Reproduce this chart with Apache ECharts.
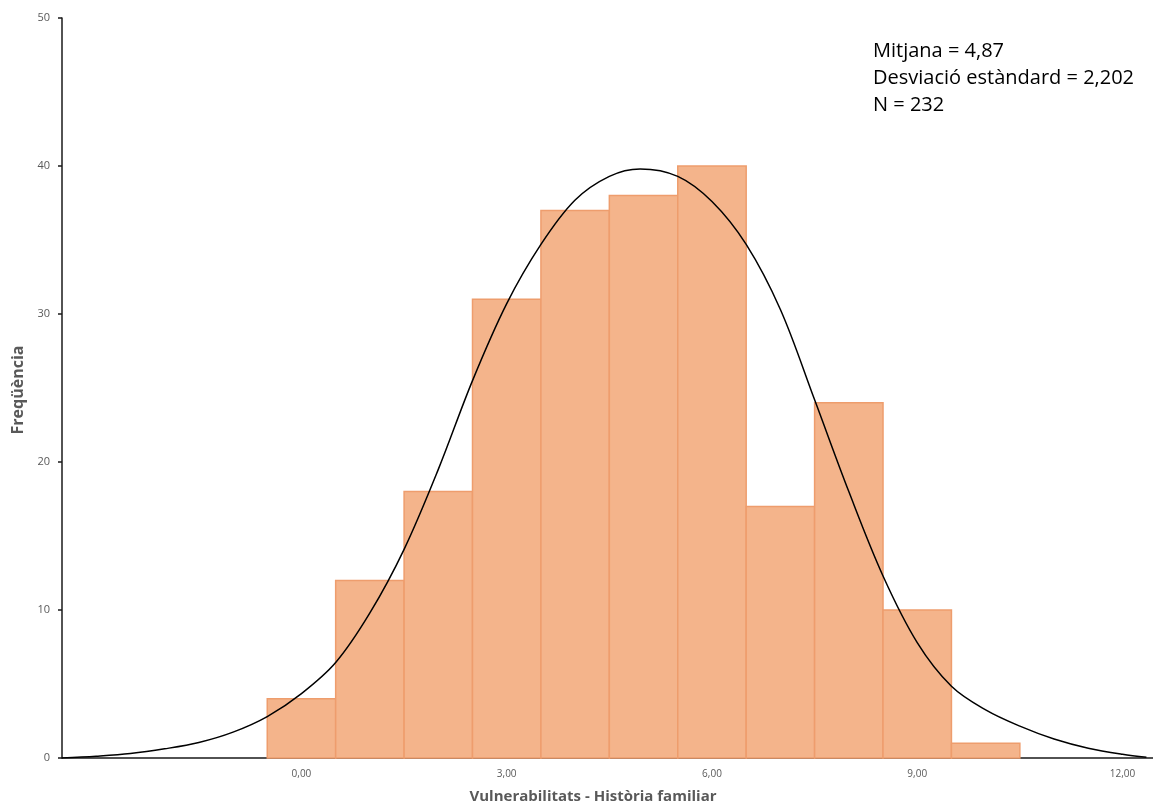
<!DOCTYPE html>
<html>
<head>
<meta charset="utf-8">
<script src="https://cdn.jsdelivr.net/npm/echarts@6/dist/echarts.min.js"></script>
<style>
html,body{margin:0;padding:0;background:#fff;}
#chart{width:1153px;height:807px;}
</style>
</head>
<body>
<div id="chart"></div>
<script>
// Histogram bins (bin centres) and frequencies
const binCenters = [0, 1, 2, 3, 4, 5, 6, 7, 8, 9, 10];
const frequencies = [4, 12, 18, 31, 37, 38, 40, 17, 24, 10, 1];
// Normal curve
const curveX = [-3.50, -3.00, -2.50, -2.00, -1.50, -1.00, -0.50, 0.00, 0.50, 1.00, 1.50, 2.00, 2.50, 3.00, 3.50, 4.00, 4.50, 4.95, 5.50, 6.00, 6.50, 7.00, 7.50, 8.00, 8.50, 9.00, 9.50, 10.00, 10.50, 11.00, 11.50, 12.00, 12.35];
const curveY = [0.00, 0.12, 0.30, 0.62, 1.05, 1.75, 2.80, 4.35, 6.45, 9.80, 14.10, 19.50, 25.50, 30.70, 34.70, 37.70, 39.30, 39.80, 39.30, 37.60, 34.70, 30.30, 24.20, 18.00, 12.30, 7.80, 4.85, 3.25, 2.15, 1.28, 0.66, 0.25, 0.05];
const xTickValues = [0, 3, 6, 9, 12];
const yTickInterval = 10;
const statsLines = ['Mitjana = 4,87', 'Desviació estàndard = 2,202', 'N = 232'];
const xTitle = 'Vulnerabilitats - Història familiar';
const yTitle = 'Freqüència';

const barData = binCenters.map((c, i) => [c, frequencies[i]]);
const curveData = curveX.map((x, i) => [x, curveY[i]]);

const chart = echarts.init(document.getElementById('chart'), null, {renderer: 'canvas'});
const option = {
  animation: false,
  backgroundColor: '#ffffff',
  grid: {left: 62, right: 0, top: 18, bottom: 49, containLabel: false},
  xAxis: {
    type: 'value',
    min: -3.5,
    max: 12.446,
    splitLine: {show: false},
    axisTick: {show: false},
    axisLine: {show: true, onZero: false, lineStyle: {color: '#1a1a1a', width: 1.5}},
    axisLabel: {
      customValues: xTickValues,
      color: '#595959',
      fontSize: 10,
      fontFamily: 'Open Sans',
      margin: 11,
      formatter: v => v.toFixed(2).replace('.', ',')
    }
  },
  yAxis: {
    type: 'value',
    min: 0,
    max: 50,
    interval: yTickInterval,
    splitLine: {show: false},
    axisLine: {show: true, onZero: false, lineStyle: {color: '#1a1a1a', width: 1.5}},
    axisTick: {show: true, inside: false, length: 4, lineStyle: {color: '#1a1a1a', width: 1.5}},
    axisLabel: {color: '#595959', fontSize: 11, fontFamily: 'Open Sans', margin: 12}
  },
  series: [
    {
      type: 'custom',
      data: barData,
      z: 2,
      renderItem: function (params, api) {
        const c = api.value(0), v = api.value(1);
        const p0 = api.coord([c - 0.5, v]);
        const p1 = api.coord([c + 0.5, 0]);
        return {
          type: 'rect',
          shape: {x: p0[0], y: p0[1], width: p1[0] - p0[0], height: p1[1] - p0[1]},
          style: {fill: '#F4B48B', stroke: '#EE9D6D', lineWidth: 1.5}
        };
      }
    },
    {
      type: 'line',
      data: curveData,
      smooth: 0.35,
      showSymbol: false,
      z: 5,
      lineStyle: {color: '#000000', width: 1.5}
    }
  ],
  graphic: [
    {
      type: 'text',
      left: 873,
      top: 38,
      style: {
        text: statsLines.join('\n'),
        fill: '#000000',
        font: '20px "Open Sans"',
        lineHeight: 27
      }
    },
    {
      type: 'text',
      x: 593,
      y: 797,
      style: {
        text: xTitle,
        fill: '#595959',
        font: 'bold 15px "Open Sans"',
        align: 'center',
        verticalAlign: 'middle'
      }
    },
    {
      type: 'text',
      x: 18,
      y: 390,
      rotation: Math.PI / 2,
      style: {
        text: yTitle,
        fill: '#595959',
        font: 'bold 16px "Open Sans"',
        align: 'center',
        verticalAlign: 'middle'
      }
    }
  ]
};
chart.setOption(option);
</script>
</body>
</html>
